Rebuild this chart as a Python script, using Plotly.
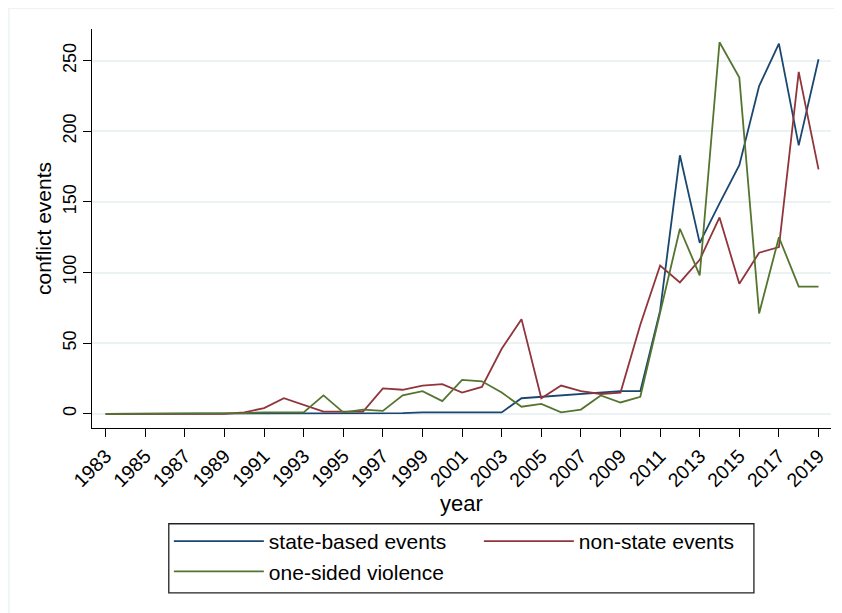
import plotly.graph_objects as go

years = list(range(1983, 2020))

state_based = [0, 0, 0, 0, 0, 0, 0,
               0, 0, 0, 0, 0, 0, 0.5, 0.5, 0.5, 1, 1, 1, 1, 1,
               11, 12, 13, 14, 15, 16, 16, 73, 183, 121, 149, 176, 232, 262, 190, 251]

non_state = [0, 0, 0, 0, 0, 0, 0,
             1, 4, 11, 6, 1.5, 1.5, 1.5, 18, 17, 20, 21, 15, 19, 46,
             67, 11, 20, 16, 14, 15, 63, 105, 93, 109, 139, 92, 114, 118, 242, 173]

one_sided = [0, 0, 0, 0, 0, 0, 0,
             0.5, 1, 1, 1, 13, 1, 3, 2, 13, 16, 9, 24, 23, 15,
             5, 7, 1, 3, 13, 8, 12, 71, 131, 98, 263, 238, 71, 125, 90, 90]

series_names = ["state-based events", "non-state events", "one-sided violence"]
series_colors = ["#1a476f", "#90353b", "#55752f"]

FONT = "Liberation Sans, Arial, sans-serif"

fig = go.Figure()
for name, vals, col in zip(series_names, [state_based, non_state, one_sided], series_colors):
    fig.add_trace(go.Scatter(x=years, y=vals, mode="lines", name=name,
                             line=dict(color=col, width=1.8)))

# page body has an 8px margin, so the figure is 8px smaller than the window
fig.update_layout(
    width=834, height=605,
    margin=dict(l=84, r=11, t=21, b=185),
    paper_bgcolor="white", plot_bgcolor="white",
    font=dict(family=FONT, size=20, color="black"),
    showlegend=True,
    legend=dict(orientation="h", x=0.104, y=-0.233, xanchor="left", yanchor="top",
                borderwidth=0, bgcolor="rgba(0,0,0,0)",
                font=dict(family=FONT, size=21, color="black"),
                itemwidth=90, entrywidth=205, traceorder="normal"),
)

fig.update_xaxes(
    range=[1982.31, 2019.63], tick0=1983, dtick=2, tickangle=-45,
    showgrid=False, zeroline=False, automargin=False,
    showline=True, linecolor="black", linewidth=1.3,
    ticks="outside", ticklen=8, tickwidth=1.3, tickcolor="black",
    tickfont=dict(family=FONT, size=19.5, color="black"),
    title=dict(text="year", font=dict(family=FONT, size=22, color="black"), standoff=0),
)
fig.update_yaxes(
    range=[-10.07, 272.4], tickvals=[0, 50, 100, 150, 200, 250], tickangle=-90,
    showgrid=True, gridcolor="#EAF2F3", gridwidth=1.5, zeroline=False, automargin=False,
    showline=True, linecolor="black", linewidth=1.3,
    ticks="outside", ticklen=8, tickwidth=1.3, tickcolor="black",
    tickfont=dict(family=FONT, size=18, color="black"),
    title=dict(text="conflict events", font=dict(family=FONT, size=21, color="black"), standoff=2),
)

# legend frame
fig.add_shape(type="rect", xref="paper", yref="paper",
              x0=0.1039, x1=0.8957, y0=-0.4132, y1=-0.2400,
              line=dict(color="#222222", width=1.3), fillcolor="rgba(0,0,0,0)")

# faint outer graph-region frame
fig.add_shape(type="rect", xref="paper", yref="paper",
              x0=-0.1124, x1=1.3, y0=-0.7, y1=1.0522,
              line=dict(color="#E4ECEE", width=1), fillcolor="rgba(0,0,0,0)", layer="below")

fig.write_html("out.html")
